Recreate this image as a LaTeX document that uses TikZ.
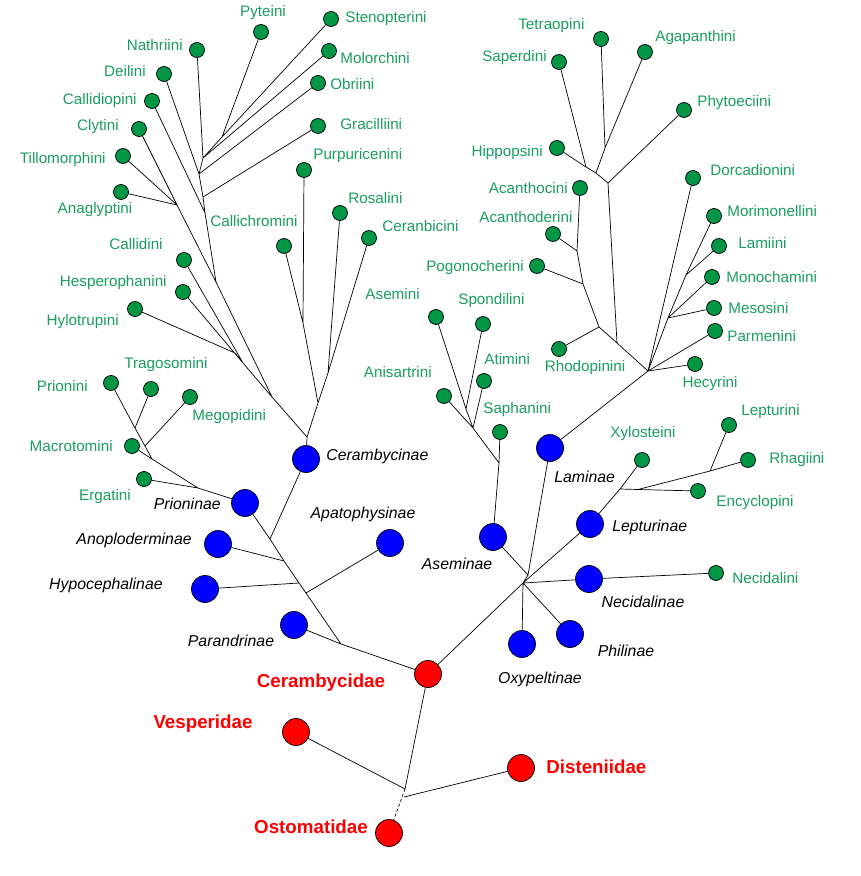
\documentclass[tikz,border=0pt]{standalone}
\usepackage{fontspec}
\setmainfont{Liberation Sans}
\usetikzlibrary{positioning}
\definecolor{tribegreen}{RGB}{0,150,70}
\definecolor{tribetext}{RGB}{25,158,95}
\tikzset{
x=0.03cm, y=-0.03cm, % one unit is one pixel of the scan, y runs downwards
every picture/.style={line width=0.6pt},
tribe/.style={circle, draw, fill=tribegreen, minimum size=0.45cm, inner sep=0pt}, % small green dots
subfam/.style={circle, draw, fill=blue, minimum size=0.81cm, inner sep=0pt}, % blue subfamilies
family/.style={circle, draw, fill=red, minimum size=0.81cm, inner sep=0pt}, % red families
tname/.style={text=tribetext, inner sep=0pt, font=\fontsize{13}{15}\selectfont}, % tribe names
sname/.style={inner sep=0pt, font=\fontsize{13.5}{15}\selectfont\itshape}, % subfamily names
fname/.style={text=red, inner sep=0pt, font=\fontsize{16}{19}\selectfont\bfseries}, % family names
}

\begin{document}
\begin{tikzpicture}
    \useasboundingbox (0,0) rectangle (860,876);
    % families
    \node[family] (cerambycidae) at (428,674) {};
    \node[family] (vesperidae) at (296,732) {};
    \node[family] (disteniidae) at (521,768) {};
    \node[family] (ostomatidae) at (389,833) {};
    \node[fname] (lCerambycidae) at (321,683) {Cerambycidae};
    \node[fname] (lVesperidae) at (203,724) {Vesperidae};
    \node[fname, anchor=west] (lDisteniidae) at (546,767) {Disteniidae};
    \node[fname] (lOstomatidae) at (311,827) {Ostomatidae};
    % subfamilies
    \node[subfam] (cerambycinae) at (306,459) {};
    \node[subfam] (prioninae) at (245,503) {};
    \node[subfam] (anoploderminae) at (218,544) {};
    \node[subfam] (apatophysinae) at (390,543) {};
    \node[subfam] (hypocephalinae) at (205,589) {};
    \node[subfam] (parandrinae) at (294,625) {};
    \node[subfam] (laminae) at (550,448) {};
    \node[subfam] (aseminae) at (493,537) {};
    \node[subfam] (lepturinae) at (590,524) {};
    \node[subfam] (necidalinae) at (589,579) {};
    \node[subfam] (philinae) at (570,634) {};
    \node[subfam] (oxypeltinae) at (522,644) {};
    \node[sname, anchor=west] (lCerambycinae) at (326,456) {Cerambycinae};
    \node[sname, anchor=east] (lPrioninae) at (221,504) {Prioninae};
    \node[sname, anchor=east] (lAnoploderminae) at (192,540) {Anoploderminae};
    \node[sname, anchor=east] (lHypocephalinae) at (163,585) {Hypocephalinae};
    \node[sname] (lParandrinae) at (231,641) {Parandrinae};
    \node[sname] (lApatophysinae) at (363,514) {Apatophysinae};
    \node[sname] (lAseminae) at (457,564) {Aseminae};
    \node[sname, anchor=west] (lLaminae) at (554,477) {Laminae};
    \node[sname, anchor=west] (lLepturinae) at (612,527) {Lepturinae};
    \node[sname] (lNecidalinae) at (643,602) {Necidalinae};
    \node[sname] (lPhilinae) at (626,651) {Philinae};
    \node[sname] (lOxypeltinae) at (540,679) {Oxypeltinae};
    % tribes of Cerambycinae and Prioninae
    \node[tribe] (nathriini) at (197,50) {};
    \node[tribe] (pyteini) at (261,32) {};
    \node[tribe] (stenopterini) at (331,19) {};
    \node[tribe] (molorchini) at (329,51) {};
    \node[tribe] (obriini) at (318,83) {};
    \node[tribe] (gracilliini) at (318,126) {};
    \node[tribe] (deilini) at (164,74) {};
    \node[tribe] (callidiopini) at (152,101) {};
    \node[tribe] (clytini) at (139,129) {};
    \node[tribe] (tillomorphini) at (123,156) {};
    \node[tribe] (anaglyptini) at (121,192) {};
    \node[tribe] (purpuricenini) at (304,170) {};
    \node[tribe] (rosalini) at (340,213) {};
    \node[tribe] (ceranbicini) at (369,238) {};
    \node[tribe] (callichromini) at (284,246) {};
    \node[tribe] (callidini) at (184,260) {};
    \node[tribe] (hesperophanini) at (183,292) {};
    \node[tribe] (hylotrupini) at (135,309) {};
    \node[tribe] (prionini) at (111,383) {};
    \node[tribe] (tragosomini) at (151,389) {};
    \node[tribe] (megopidini) at (190,397) {};
    \node[tribe] (macrotomini) at (132,446) {};
    \node[tribe] (ergatini) at (144,479) {};
    % tribes of Laminae, Aseminae, Lepturinae, Necidalinae
    \node[tribe] (tetraopini) at (601,39) {};
    \node[tribe] (agapanthini) at (645,52) {};
    \node[tribe] (saperdini) at (559,62) {};
    \node[tribe] (phytoeciini) at (684,110) {};
    \node[tribe] (hippopsini) at (557,148) {};
    \node[tribe] (acanthocini) at (580,188) {};
    \node[tribe] (acanthoderini) at (553,234) {};
    \node[tribe] (pogonocherini) at (537,266) {};
    \node[tribe] (rhodopinini) at (559,349) {};
    \node[tribe] (dorcadionini) at (693,178) {};
    \node[tribe] (morimonellini) at (714,216) {};
    \node[tribe] (lamiini) at (719,246) {};
    \node[tribe] (monochamini) at (712,277) {};
    \node[tribe] (mesosini) at (714,308) {};
    \node[tribe] (parmenini) at (715,331) {};
    \node[tribe] (hecyrini) at (695,364) {};
    \node[tribe] (asemini) at (436,317) {};
    \node[tribe] (spondilini) at (483,324) {};
    \node[tribe] (atimini) at (484,381) {};
    \node[tribe] (anisartrini) at (444,396) {};
    \node[tribe] (saphanini) at (500,432) {};
    \node[tribe] (xylosteini) at (642,460) {};
    \node[tribe] (lepturini) at (729,425) {};
    \node[tribe] (rhagiini) at (748,460) {};
    \node[tribe] (encyclopini) at (698,491) {};
    \node[tribe] (necidalini) at (716,573) {};
    % tribe names
    \node[tname, anchor=east] (lNathriini) at (183,45) {Nathriini};
    \node[tname] (lPyteini) at (263,13) {Pyteini};
    \node[tname, anchor=west] (lStenopterini) at (345,19) {Stenopterini};
    \node[tname, anchor=west] (lMolorchini) at (340,58) {Molorchini};
    \node[tname, anchor=west] (lObriini) at (330,84) {Obriini};
    \node[tname, anchor=west] (lGracilliini) at (340,124) {Gracilliini};
    \node[tname, anchor=east] (lDeilini) at (146,71) {Deilini};
    \node[tname, anchor=east] (lCallidiopini) at (137,101) {Callidiopini};
    \node[tname, anchor=east] (lClytini) at (119,127) {Clytini};
    \node[tname, anchor=east] (lTillomorphini) at (106,160) {Tillomorphini};
    \node[tname] (lAnaglyptini) at (95,210) {Anaglyptini};
    \node[tname, anchor=west] (lPurpuricenini) at (313,156) {Purpuricenini};
    \node[tname, anchor=west] (lRosalini) at (348,198) {Rosalini};
    \node[tname, anchor=west] (lCeranbicini) at (382,226) {Ceranbicini};
    \node[tname, anchor=west] (lCallichromini) at (210,221) {Callichromini};
    \node[tname, anchor=east] (lCallidini) at (163,244) {Callidini};
    \node[tname, anchor=east] (lHesperophanini) at (167,283) {Hesperophanini};
    \node[tname, anchor=east] (lHylotrupini) at (119,322) {Hylotrupini};
    \node[tname, anchor=east] (lPrionini) at (88,386) {Prionini};
    \node[tname, anchor=west] (lTragosomini) at (124,365) {Tragosomini};
    \node[tname, anchor=west] (lMegopidini) at (192,417) {Megopidini};
    \node[tname, anchor=east] (lMacrotomini) at (113,446) {Macrotomini};
    \node[tname] (lErgatini) at (105,497) {Ergatini};
    \node[tname, anchor=west] (lTetraopini) at (518,26) {Tetraopini};
    \node[tname, anchor=west] (lAgapanthini) at (655,38) {Agapanthini};
    \node[tname, anchor=east] (lSaperdini) at (547,58) {Saperdini};
    \node[tname, anchor=west] (lPhytoeciini) at (697,103) {Phytoeciini};
    \node[tname, anchor=east] (lHippopsini) at (543,153) {Hippopsini};
    \node[tname, anchor=east] (lAcanthocini) at (568,188) {Acanthocini};
    \node[tname, anchor=west] (lAcanthoderini) at (479,217) {Acanthoderini};
    \node[tname, anchor=east] (lPogonocherini) at (524,268) {Pogonocherini};
    \node[tname] (lRhodopinini) at (585,368) {Rhodopinini};
    \node[tname, anchor=west] (lDorcadionini) at (710,170) {Dorcadionini};
    \node[tname, anchor=west] (lMorimonellini) at (727,211) {Morimonellini};
    \node[tname, anchor=west] (lLamiini) at (738,243) {Lamiini};
    \node[tname, anchor=west] (lMonochamini) at (726,277) {Monochamini};
    \node[tname, anchor=west] (lMesosini) at (728,308) {Mesosini};
    \node[tname, anchor=west] (lParmenini) at (727,336) {Parmenini};
    \node[tname] (lHecyrini) at (710,384) {Hecyrini};
    \node[tname, anchor=east] (lAsemini) at (420,294) {Asemini};
    \node[tname, anchor=west] (lSpondilini) at (458,301) {Spondilini};
    \node[tname, anchor=west] (lAtimini) at (484,359) {Atimini};
    \node[tname, anchor=east] (lAnisartrini) at (432,372) {Anisartrini};
    \node[tname, anchor=west] (lSaphanini) at (483,410) {Saphanini};
    \node[tname] (lXylosteini) at (643,434) {Xylosteini};
    \node[tname, anchor=west] (lLepturini) at (741,412) {Lepturini};
    \node[tname, anchor=west] (lRhagiini) at (769,460) {Rhagiini};
    \node[tname] (lEncyclopini) at (755,503) {Encyclopini};
    \node[tname, anchor=west] (lNecidalini) at (732,578) {Necidalini};
    % branching points
    \coordinate (jPy) at (222,137);
    \coordinate (jNa) at (203,158);
    \coordinate (jDe) at (199,174);
    \coordinate (jGr) at (203,197);
    \coordinate (jCp) at (205,213);
    \coordinate (jTi) at (177,205);
    \coordinate (jCl) at (216,282);
    \coordinate (jHy) at (235,353);
    \coordinate (jCa) at (243,363);
    \coordinate (jUp) at (272,397);
    \coordinate (jPu) at (303,323);
    \coordinate (jRo) at (328,373);
    \coordinate (jRg) at (318,403);
    \coordinate (jCe) at (307,437);
    \coordinate (jTr) at (135,428);
    \coordinate (jMe) at (145,446);
    \coordinate (jMa) at (152,459);
    \coordinate (jEr) at (198,488);
    \coordinate (jC) at (270,539);
    \coordinate (jAn) at (284,561);
    \coordinate (jH) at (299,583);
    \coordinate (jA) at (306,593);
    \coordinate (jP) at (341,644);
    \coordinate (jSa) at (586,167);
    \coordinate (jHi) at (596,173);
    \coordinate (jTe) at (605,148);
    \coordinate (jPh) at (608,183);
    \coordinate (jLo) at (617,343);
    \coordinate (jAd) at (577,251);
    \coordinate (jPo) at (583,284);
    \coordinate (jRh) at (599,327);
    \coordinate (jMo) at (686,275);
    \coordinate (jMM) at (668,318);
    \coordinate (jLam) at (648,371);
    \coordinate (jSp) at (466,409);
    \coordinate (jAt) at (473,428);
    \coordinate (jSap) at (499,463);
    \coordinate (jAL) at (528,575);
    \coordinate (jR) at (523,583);
    \coordinate (jXy) at (620,489);
    \coordinate (jEn) at (638,489.5);
    \coordinate (jRa) at (710,471);
    \coordinate (j0) at (405,789);
    \coordinate (jD) at (404,797);
    % branches
    \draw (stenopterini) -- (jPy) -- (jNa) (pyteini) -- (jPy) (molorchini) -- (jNa)
    (nathriini) -- (jNa) -- (jDe) (deilini) -- (jDe) (obriini) -- (jDe) -- (jGr) -- (jCp) -- (jCl)
    (gracilliini) -- (jGr) (callidiopini) -- (jCp)
    (clytini) -- (jTi) -- (jCl) -- (jUp) (tillomorphini) -- (jTi) (anaglyptini) -- (jTi)
    (hylotrupini) -- (jHy) -- (jCa) -- (jUp) -- (jCe) (hesperophanini) -- (jCa) (callidini) -- (jCa)
    (purpuricenini) -- (jPu) -- (jRg) (callichromini) -- (jPu)
    (rosalini) -- (jRo) -- (jRg) -- (jCe) (ceranbicini) -- (jRo) (jCe) -- (cerambycinae)
    (prionini) -- (jTr) -- (jMe) -- (jMa) -- (jEr) -- (prioninae)
    (tragosomini) -- (jTr) (megopidini) -- (jMe) (macrotomini) -- (jMa) (ergatini) -- (jEr)
    (prioninae) -- (jC) -- (jAn) -- (jH) -- (jA) -- (jP) -- (cerambycidae)
    (cerambycinae) -- (jC) (anoploderminae) -- (jAn) (hypocephalinae) -- (jH)
    (apatophysinae) -- (jA) (parandrinae) -- (jP)
    (saperdini) -- (jSa) (hippopsini) -- (jSa) -- (jHi) -- (jPh) (tetraopini) -- (jTe) -- (jHi)
    (agapanthini) -- (jTe) (phytoeciini) -- (jPh) -- (jLo)
    (acanthocini) -- (jAd) -- (jPo) -- (jRh) -- (jLo) -- (jLam) (acanthoderini) -- (jAd)
    (pogonocherini) -- (jPo) (rhodopinini) -- (jRh)
    (dorcadionini) -- (jLam) (morimonellini) -- (jMo) -- (jMM) -- (jLam) (lamiini) -- (jMo)
    (monochamini) -- (jMM) (mesosini) -- (jMM) (parmenini) -- (jLam) (hecyrini) -- (jLam)
    (jLam) -- (laminae)
    (asemini) -- (jSp) -- (jAt) -- (jSap) -- (aseminae) (spondilini) -- (jSp)
    (atimini) -- (jAt) (anisartrini) -- (jAt) (saphanini) -- (jSap)
    (lepturinae) -- (jXy) -- (xylosteini) (jXy) -- (jEn) -- (encyclopini)
    (jEn) -- (jRa) -- (rhagiini) (lepturini) -- (jRa)
    (aseminae) -- (jAL) (laminae) -- (jAL) -- (jR) (cerambycidae) -- (jR) -- (lepturinae)
    (necidalinae) -- (jR) (oxypeltinae) -- (jR) (philinae) -- (jR) (necidalinae) -- (necidalini)
    (cerambycidae) -- (j0) (vesperidae) -- (j0) (disteniidae) -- (jD);
    \draw[dashed, dash pattern=on 2.5pt off 2pt] (j0) -- (ostomatidae);
\end{tikzpicture}
\end{document}
